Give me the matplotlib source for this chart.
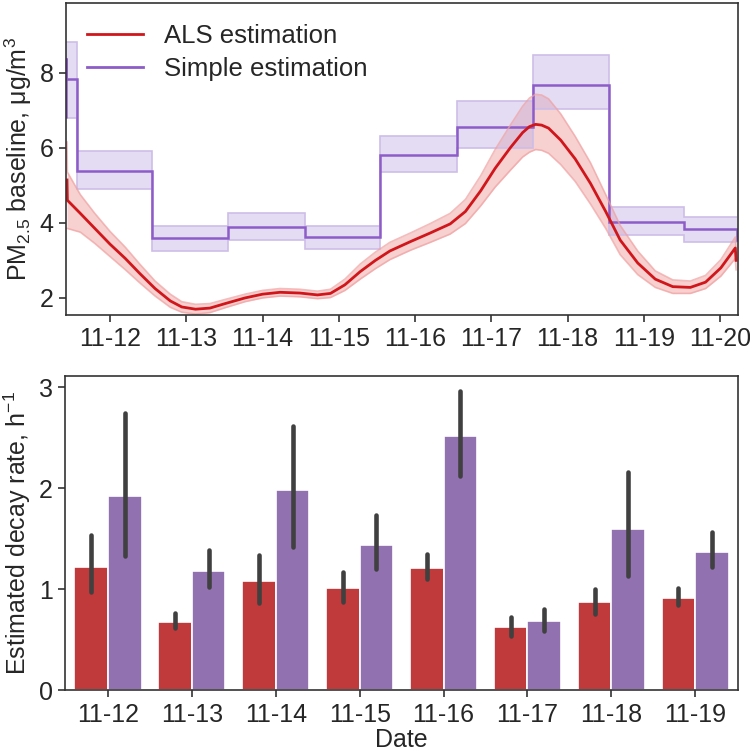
import matplotlib.pyplot as plt
import numpy as np

plt.rcParams['font.family'] = ['Liberation Sans', 'DejaVu Sans']
plt.rcParams['mathtext.default'] = 'regular'
plt.rcParams['font.size'] = 18
plt.rcParams['text.color'] = '#262626'
plt.rcParams['axes.labelcolor'] = '#262626'

# top panel: ALS estimation (days after 11-12 00:00)
als_x = [-0.565, -0.56, -0.39, -0.20, 0.0, 0.20, 0.39, 0.59, 0.79, 0.94, 1.12, 1.31,
         1.51, 1.77, 2.0, 2.23, 2.49, 2.72, 2.89, 3.08, 3.28, 3.48, 3.67, 3.94, 4.20,
         4.46, 4.66, 4.86, 5.05, 5.25, 5.41, 5.50, 5.58, 5.66, 5.75, 5.91, 6.10, 6.30,
         6.50, 6.69, 6.92, 7.15, 7.38, 7.61, 7.81, 8.01, 8.20, 8.21]
als_mid = [5.14, 4.6, 4.25, 3.85, 3.43, 3.05, 2.65, 2.25, 1.92, 1.76, 1.70, 1.73,
           1.85, 2.0, 2.1, 2.15, 2.13, 2.08, 2.12, 2.35, 2.7, 3.0, 3.25, 3.5, 3.73,
           3.97, 4.3, 4.85, 5.45, 6.0, 6.4, 6.56, 6.62, 6.6, 6.52, 6.2, 5.7, 5.05,
           4.3, 3.54, 2.93, 2.5, 2.3, 2.28, 2.42, 2.8, 3.33, 3.0]
als_lo = [3.85, 3.85, 3.75, 3.45, 3.1, 2.75, 2.4, 2.05, 1.75, 1.62, 1.57, 1.61,
          1.74, 1.9, 2.0, 2.05, 2.03, 1.98, 2.01, 2.2, 2.5, 2.78, 3.02, 3.27, 3.48,
          3.7, 3.98, 4.45, 4.95, 5.4, 5.75, 5.88, 5.95, 5.93, 5.85, 5.55, 5.1, 4.5,
          3.85, 3.15, 2.62, 2.28, 2.12, 2.12, 2.25, 2.58, 3.05, 2.75]
als_hi = [6.15, 5.35, 4.75, 4.25, 3.77, 3.35, 2.9, 2.45, 2.1, 1.9, 1.83, 1.85,
          1.96, 2.1, 2.2, 2.25, 2.23, 2.18, 2.23, 2.5, 2.9, 3.22, 3.48, 3.73, 3.98,
          4.25, 4.62, 5.25, 5.95, 6.6, 7.1, 7.32, 7.42, 7.4, 7.3, 6.9, 6.3, 5.6,
          4.75, 3.93, 3.25, 2.72, 2.48, 2.45, 2.6, 3.02, 3.62, 3.3]

# top panel: simple estimation (daily steps)
simple_edges = [-0.575, -0.43, 0.55, 1.55, 2.55, 3.54, 4.55, 5.54, 6.54, 7.53, 8.22]
simple_val = [7.82, 5.38, 3.6, 3.88, 3.62, 5.8, 6.54, 7.66, 4.02, 3.83]
simple_lo = [6.8, 4.9, 3.25, 3.55, 3.3, 5.35, 5.98, 7.02, 3.68, 3.5]
simple_hi = [8.82, 5.92, 3.92, 4.25, 3.92, 6.32, 7.25, 8.46, 4.42, 4.15]
simple_start = [6.8, 8.38]
simple_end = 3.54

top_ticks = ['11-12', '11-13', '11-14', '11-15', '11-16', '11-17', '11-18', '11-19', '11-20']

# bottom panel: decay rates
dates = ['11-12', '11-13', '11-14', '11-15', '11-16', '11-17', '11-18', '11-19']
als_rate = [1.22, 0.67, 1.08, 1.01, 1.21, 0.62, 0.87, 0.91]
als_err_lo = [0.97, 0.61, 0.86, 0.87, 1.10, 0.54, 0.75, 0.84]
als_err_hi = [1.54, 0.76, 1.34, 1.17, 1.35, 0.72, 1.00, 1.01]
simple_rate = [1.92, 1.18, 1.98, 1.44, 2.52, 0.68, 1.59, 1.37]
simple_err_lo = [1.33, 1.02, 1.42, 1.20, 2.12, 0.58, 1.13, 1.22]
simple_err_hi = [2.74, 1.39, 2.61, 1.73, 2.96, 0.80, 2.16, 1.57]

RED = '#d0161b'
PURPLE = '#8d5cc8'
SPINE = '#333333'


def style_axes(ax):
    for s in ax.spines.values():
        s.set_color(SPINE)
        s.set_linewidth(1.2)
    ax.tick_params(colors=SPINE, labelcolor='#262626', length=5, width=1.2,
                   labelsize=18, pad=4)


def main():
    fig = plt.figure(figsize=(7.5, 7.55), dpi=100)
    ax1 = fig.add_axes([0.088, 0.583, 0.896, 0.413])
    ax2 = fig.add_axes([0.087, 0.086, 0.897, 0.416])

    # --- top panel
    ax1.fill_between(als_x, als_lo, als_hi, color='#ec8a8a', alpha=0.4, lw=0)
    ax1.plot(als_x, als_lo, color='#f0a0a0', lw=1.2, alpha=0.7)
    ax1.plot(als_x, als_hi, color='#f0a0a0', lw=1.2, alpha=0.7)

    ax1.stairs(simple_hi, simple_edges, baseline=simple_lo, fill=True,
               color='#c4b2e3', alpha=0.45, lw=0)
    ax1.stairs(simple_hi, simple_edges, baseline=None, color='#cdbde8', lw=1.2)
    ax1.stairs(simple_lo, simple_edges, baseline=None, color='#cdbde8', lw=1.2)

    ax1.plot(als_x, als_mid, color=RED, lw=2.0, label='ALS estimation')

    x0 = simple_edges[0]
    line_edges = [x0 - 0.006, x0 - 0.003] + simple_edges + [simple_edges[-1] + 0.015]
    line_vals = simple_start + simple_val + [simple_end]
    ax1.stairs(line_vals, line_edges, baseline=None, color=PURPLE, lw=1.8)
    ax1.plot([], [], color=PURPLE, lw=2.0, label='Simple estimation')

    ax1.set_xlim(-0.578, 8.235)
    ax1.set_ylim(1.55, 9.85)
    ax1.set_xticks(np.arange(len(top_ticks)))
    ax1.set_xticklabels(top_ticks)
    ax1.set_yticks([2, 4, 6, 8])
    ax1.set_ylabel('PM$_{2.5}$ baseline, μg/m$^3$', fontsize=18, labelpad=4)
    style_axes(ax1)
    ax1.legend(loc='upper left', frameon=False, fontsize=18.5, handlelength=2.2,
               handletextpad=0.8, labelspacing=0.35, borderaxespad=0.4)

    # --- bottom panel
    x = np.arange(len(dates))
    w = 0.4
    ax2.bar(x - w / 2, als_rate, width=w, color='#c0393b', edgecolor='white', lw=1.2)
    ax2.bar(x + w / 2, simple_rate, width=w, color='#9171b0', edgecolor='white', lw=1.2)
    ax2.vlines(x - w / 2, als_err_lo, als_err_hi, color='#404040', lw=3.3,
               capstyle='round')
    ax2.vlines(x + w / 2, simple_err_lo, simple_err_hi, color='#404040', lw=3.3,
               capstyle='round')
    ax2.set_xlim(-0.51, 7.51)
    ax2.set_ylim(0, 3.11)
    ax2.set_xticks(x)
    ax2.set_xticklabels(dates)
    ax2.set_yticks([0, 1, 2, 3])
    ax2.set_xlabel('Date', fontsize=18, labelpad=1)
    ax2.set_ylabel('Estimated decay rate, h$^{-1}$', fontsize=18, labelpad=4)
    style_axes(ax2)

    fig.savefig('out.png', dpi=100)
    plt.close(fig)


if __name__ == '__main__':
    main()
